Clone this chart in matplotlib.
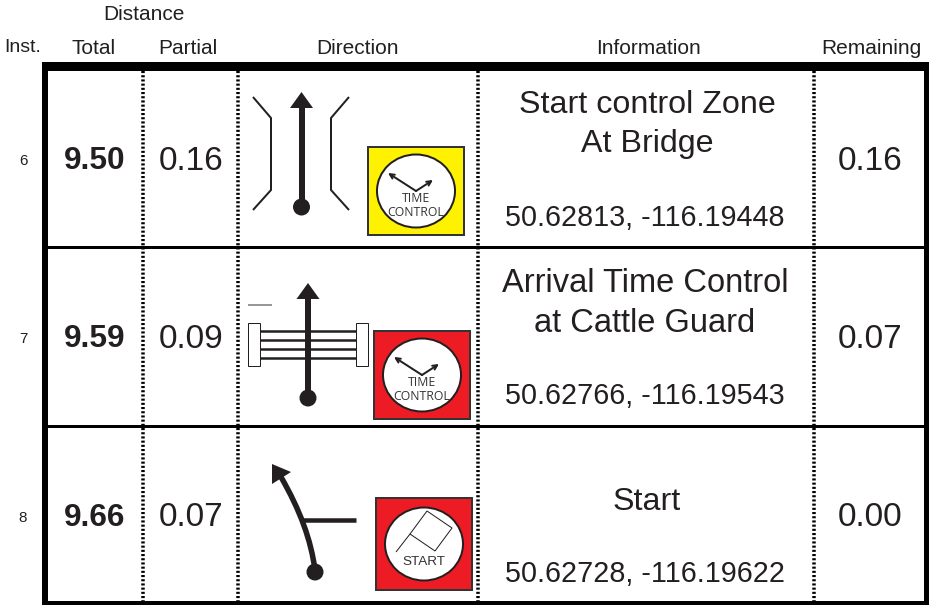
import numpy as np
import matplotlib
matplotlib.use("Agg")
import matplotlib.pyplot as plt
from matplotlib.patches import Rectangle, Circle, Ellipse, Polygon, PathPatch
from matplotlib.path import Path

plt.rcParams['font.family'] = ['Liberation Sans', 'DejaVu Sans']

inst = ["6", "7", "8"]
total = ["9.50", "9.59", "9.66"]
partial = ["0.16", "0.09", "0.07"]
remaining = ["0.16", "0.07", "0.00"]
info = [["Start control Zone", "At Bridge"], ["Arrival Time Control", "at Cattle Guard"], ["Start"]]
coords = ["50.62813, -116.19448", "50.62766, -116.19543", "50.62728, -116.19622"]
headers = ["Inst.", "Total", "Partial", "Direction", "Information", "Remaining"]
header_x = [22.5, 94, 188, 358, 648, 871]
row_mid = [159, 337, 516]
coord_y = [218, 396, 574]
col_sep = [143, 238, 478, 814]

INK = "#231f20"
RED = "#ed1c24"
YEL = "#fff200"

fig = plt.figure(figsize=(9.31, 6.05), dpi=100)
ax = fig.add_axes([0, 0, 1, 1])
ax.set_xlim(0, 931)
ax.set_ylim(605, 0)
ax.axis("off")


def lw(px):
    return px * 72 / 100


def line(xs, ys, w, c=INK, z=3, join="miter"):
    ax.plot(xs, ys, color=c, lw=lw(w), solid_capstyle="butt", solid_joinstyle=join, zorder=z)


def block(x0, y0, x1, y1):
    ax.add_patch(Rectangle((x0, y0), x1 - x0, y1 - y0, fc="black", ec="none", zorder=2))


def arrow_stem(x, top, bottom):
    line([x, x], [top + 10, bottom], 6)
    ax.add_patch(Polygon([[x, top], [x - 11.5, top + 16], [x + 11.5, top + 16]], fc=INK, ec="none", zorder=4))
    ax.add_patch(Circle((x, bottom), 8.5, fc=INK, ec="none", zorder=4))


def badge(x0, y0, w, h, color, kind):
    ax.add_patch(Rectangle((x0, y0), w, h, fc=color, ec="#333333", lw=lw(2), zorder=3))
    cx, cy = x0 + w / 2, y0 + h / 2
    ax.add_patch(Ellipse((cx, cy), 78, 73, fc="white", ec=INK, lw=lw(2), zorder=4))
    if kind == "time":
        ax.annotate("", xy=(cx - 28, cy - 18), xytext=(cx, cy),
                    arrowprops=dict(arrowstyle="->", lw=lw(2), color=INK, shrinkA=0, shrinkB=0, mutation_scale=8), zorder=5)
        ax.annotate("", xy=(cx + 17, cy - 11), xytext=(cx, cy),
                    arrowprops=dict(arrowstyle="->", lw=lw(2), color=INK, shrinkA=0, shrinkB=0, mutation_scale=8), zorder=5)
        ax.text(cx, cy + 8, "TIME", fontsize=8.8, color="#333333", ha="center", va="center", family="Open Sans", zorder=5)
        ax.text(cx, cy + 21, "CONTROL", fontsize=8.8, color="#333333", ha="center", va="center", family="Open Sans", zorder=5)
    else:
        ax.add_patch(Polygon([[cx - 14, cy - 10], [cx + 3, cy - 33], [cx + 28, cy - 16], [cx + 11, cy + 7]],
                             fc="none", ec=INK, lw=lw(1), zorder=5))
        line([cx - 14, cx - 28], [cy - 10, cy + 8], 1, z=5)
        ax.text(cx, cy + 18, "START", fontsize=9.7, color="#333333", ha="center", va="center", zorder=5)


# frame and grid
for x in col_sep:
    ax.plot([x, x], [71, 601], color="black", lw=lw(3.5), ls=(0, (0.6, 0.6)), zorder=1)
block(42, 62, 929, 71)
block(42, 62, 48, 605)
block(924, 62, 929, 605)
block(42, 601, 929, 605)
block(48, 246, 924, 249)
block(48, 425, 924, 428)

# header
ax.text(144, 15, "Distance", fontsize=15, ha="center", va="center", color=INK)
for x, h in zip(header_x, headers):
    ax.text(x, 48, h, fontsize=14 if h == "Inst." else 15, ha="center", va="center", color=INK)

# rows
for i in range(3):
    y = row_mid[i]
    ax.text(23, y + 2, inst[i], fontsize=11, ha="center", va="center", color=INK)
    ax.text(95, y + 2, total[i], fontsize=22.7, fontweight="bold", ha="center", va="center", color=INK)
    ax.text(191, y + 2, partial[i], fontsize=24, ha="center", va="center", color=INK)
    ax.text(870, y + 2, remaining[i], fontsize=24, ha="center", va="center", color=INK)
    ax.text(645, coord_y[i], coords[i], fontsize=20.7, ha="center", va="center", color=INK)

ax.text(647, 105, info[0][0], fontsize=23.2, ha="center", va="center", color=INK)
ax.text(647, 144, info[0][1], fontsize=23.2, ha="center", va="center", color=INK)
ax.text(645, 284, info[1][0], fontsize=23.5, ha="center", va="center", color=INK)
ax.text(645, 324, info[1][1], fontsize=23.5, ha="center", va="center", color=INK)
ax.text(647, 502, info[2][0], fontsize=23.2, ha="center", va="center", color=INK)

# row 6 icon: bridge
arrow_stem(301.5, 92, 207)
line([253, 271, 271, 253], [97, 118, 190, 210], 2, join="round")
line([349, 331, 331, 349], [97, 118, 190, 210], 2, join="round")
badge(368, 147, 96, 88, YEL, "time")

# row 7 icon: cattle guard
for y in [331, 340, 349, 358]:
    line([258, 358], [y, y], 2.5)
arrow_stem(308, 283, 398)
ax.add_patch(Rectangle((248, 323), 12, 43, fc="white", ec=INK, lw=lw(1), zorder=3))
ax.add_patch(Rectangle((356, 323), 12, 43, fc="white", ec=INK, lw=lw(1), zorder=3))
line([248, 272], [305, 305], 1.5, "#777777")
badge(374, 331, 96, 88, RED, "time")

# row 8 icon: fork
curve = Path([(315, 570), (311, 540), (300, 510), (281, 477)], [Path.MOVETO, Path.CURVE4, Path.CURVE4, Path.CURVE4])
ax.add_patch(PathPatch(curve, fc="none", ec=INK, lw=lw(5.5), zorder=3))
ax.add_patch(Polygon([[272, 464], [291, 472], [272, 484]], fc=INK, ec="none", zorder=4))
ax.add_patch(Circle((315, 572), 8.5, fc=INK, ec="none", zorder=4))
line([303, 356], [520, 520], 4.5)
badge(376, 498, 96, 92, RED, "start")

fig.savefig("out.png", dpi=100)
